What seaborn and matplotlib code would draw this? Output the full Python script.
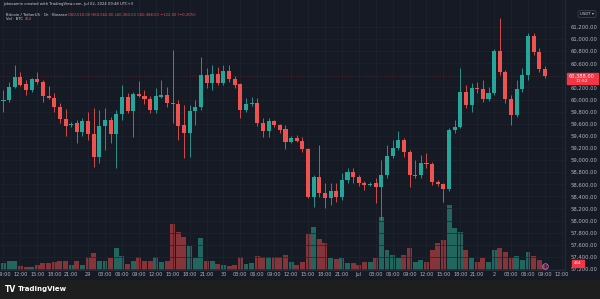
import numpy as np
import pandas as pd
import matplotlib
matplotlib.use('Agg')
import matplotlib.pyplot as plt
from matplotlib.patches import Rectangle, FancyBboxPatch
from matplotlib.lines import Line2D
from matplotlib.ticker import FuncFormatter
import seaborn as sns

# ==========================================
# 1. 資料 (BTC/USDT 1h, 2024-06-28 09:00 ~ 2024-07-02 09:00)
# ==========================================
start_time = '2024-06-28 09:00'

opens = [59980, 59990, 60210, 60370, 60260, 60160, 60340, 60290, 60060, 60030,
         59880, 59680, 59580, 59610, 59460, 59650, 59430, 59050, 59560, 59660,
         59430, 59760, 60040, 59810, 60090, 60060, 60010, 59830, 60040, 60080,
         59940, 59930, 59580, 59450, 59810, 59880, 60410, 60270, 60420, 60270,
         60470, 60340, 60260, 59830, 59930, 59940, 59610, 59480, 59650, 59580,
         59510, 59300, 59370, 59320, 59180, 58390, 58720, 58460, 58370, 58490,
         58390, 58670, 58800, 58720, 58620, 58590, 58620, 58560, 58750, 59070,
         59200, 59330, 59130, 58740, 58750, 58950, 58930, 58640, 58600, 58520,
         59500, 59550, 60130, 59910, 60190, 60180, 60010, 60110, 60800, 60460,
         60010, 59750, 60180, 60410, 61050, 60790, 60510]
highs = [60160, 60290, 60570, 60460, 60320, 60360, 60460, 60320, 60220, 60110,
         59940, 59840, 59630, 59660, 59700, 59800, 59860, 59830, 59860, 59710,
         59830, 60240, 60110, 60130, 60310, 60160, 60060, 60190, 60320, 60210,
         60820, 59990, 59910, 59910, 59990, 60700, 60520, 60570, 60540, 60570,
         60570, 60390, 60270, 60030, 60040, 60030, 59700, 59700, 59660, 59600,
         59580, 59400, 59410, 59380, 59200, 58750, 59250, 58620, 58620, 58620,
         58790, 58870, 58870, 58750, 58650, 58640, 58700, 59000, 59250, 59330,
         59480, 59360, 59170, 59000, 59080, 59120, 58970, 58670, 58620, 59530,
         59660, 60520, 60240, 60270, 60290, 60320, 60210, 60840, 61350, 60490,
         60080, 60320, 60520, 61100, 61100, 60850, 60560]
lows = [59800, 59960, 60190, 60220, 60080, 60130, 60260, 59960, 60010, 59800,
        59610, 59400, 59550, 59280, 59400, 59330, 58890, 58950, 59170, 59280,
        58870, 59660, 59780, 59380, 60040, 59930, 59780, 59780, 60030, 59880,
        59610, 59330, 59030, 59050, 59580, 59830, 60190, 60160, 60240, 60240,
        60290, 60190, 59700, 59800, 59890, 59560, 59380, 59380, 59550, 59450,
        59180, 59280, 59300, 59130, 58370, 58220, 58390, 58210, 58260, 58310,
        58340, 58620, 58620, 58570, 58510, 58570, 58290, 58010, 58700, 59030,
        59170, 59050, 58560, 58700, 58700, 58870, 58590, 58570, 58310, 58490,
        59450, 59530, 59860, 59800, 60110, 59960, 59980, 60080, 60410, 59940,
        59580, 59710, 60130, 60320, 60740, 60460, 60360]
closes = [59990, 60210, 60370, 60240, 60160, 60340, 60290, 60060, 60030, 59880,
          59680, 59560, 59600, 59460, 59650, 59430, 59050, 59560, 59660, 59430,
          59760, 60040, 59810, 60090, 60060, 60010, 59830, 60060, 60080, 59940,
          59930, 59560, 59450, 59810, 59880, 60410, 60270, 60420, 60270, 60470,
          60340, 60240, 59830, 59930, 59940, 59610, 59480, 59650, 59580, 59500,
          59300, 59370, 59320, 59180, 58390, 58720, 58460, 58370, 58490, 58390,
          58670, 58800, 58720, 58620, 58590, 58600, 58560, 58750, 59070, 59200,
          59330, 59130, 58750, 58750, 58950, 58930, 58640, 58600, 58520, 59500,
          59550, 60130, 59910, 60190, 60180, 60010, 60110, 60800, 60460, 60010,
          59750, 60180, 60410, 61050, 60790, 60510, 60388]
volumes = [700, 900, 900, 400, 300, 300, 500, 700, 700, 800,
           900, 900, 500, 900, 500, 1300, 1700, 900, 900, 1200,
           2200, 1400, 600, 900, 1300, 900, 900, 1300, 800, 900,
           4600, 3800, 3300, 2400, 1200, 3200, 900, 900, 600, 500,
           400, 500, 1300, 600, 700, 1400, 1300, 1300, 1300, 1300,
           1500, 800, 500, 800, 3600, 4300, 3100, 2700, 1200, 1100,
           1200, 700, 700, 500, 800, 800, 1200, 5300, 2000, 1500,
           1200, 1500, 2200, 800, 1000, 800, 2000, 2700, 3000, 6500,
           4200, 3800, 2000, 1200, 800, 1200, 800, 2000, 2200, 1800,
           1200, 1400, 1000, 1800, 1400, 1000, 454]

df = pd.DataFrame({'open': opens, 'high': highs, 'low': lows,
                   'close': closes, 'volume': volumes})
df['idx'] = np.arange(len(df))
df['dir'] = np.where(df['close'] >= df['open'], 'up', 'down')

UP = '#26a69a'
DOWN = '#ef5350'
BG = '#161a25'
TXT = '#b2b5be'

# ==========================================
# 2. 畫布
# ==========================================
sns.set_theme(style='dark')
plt.rcParams['font.family'] = ['DejaVu Sans']

W, H = 600, 299
fig = plt.figure(figsize=(6, 2.99), dpi=100, facecolor=BG)
# 底部 TradingView 條
fig.add_artist(Rectangle((0, 0), 1, 19 / H, transform=fig.transFigure,
                         color='#1e1e1e', zorder=0))

ax = fig.add_axes([0, 29 / H, 565 / W, 270 / H])
axv = ax.twinx()
axv.set_facecolor(BG)
ax.set_zorder(axv.get_zorder() + 1)
ax.patch.set_visible(False)

# --- 成交量 (axv) ---
sns.barplot(data=df, x='idx', y='volume', hue='dir',
            palette={'up': '#21675f', 'down': '#85353a'},
            native_scale=True, dodge=False, width=0.88, saturation=1,
            legend=False, errorbar=None, linewidth=0, ax=axv)
axv.set_ylim(0, 27000)
axv.set_yticks([])
axv.set_ylabel('')
axv.set_xlabel('')
for s in axv.spines.values():
    s.set_visible(False)

# --- K線 (ax) ---
colors = np.where(df['dir'] == 'up', UP, DOWN)
ax.vlines(df['idx'], df['low'], df['high'], colors=colors, linewidth=0.6, zorder=3)
body_lo = np.minimum(df['open'], df['close'])
body_h = np.maximum(np.abs(df['close'] - df['open']), 12)
ax.bar(df['idx'], body_h, bottom=body_lo, width=0.72, color=colors,
       linewidth=0, zorder=4)

last = df.iloc[-1]
ax.axhline(last['close'], color=DOWN, lw=0.5, ls=(0, (1, 2)), alpha=0.35, zorder=2)

ax.set_xlim(-0.62, 99.56)
ax.set_ylim(57183, 61646)

# x 軸刻度: 每 3 小時
times = pd.date_range(start_time, periods=101, freq='h')
tick_pos = [i for i in range(len(times)) if times[i].hour % 3 == 0]
tick_lab = []
for i in tick_pos:
    t = times[i]
    if t.hour == 0:
        tick_lab.append('Jul' if t.day == 1 else str(t.day))
    else:
        tick_lab.append(t.strftime('%H:%M'))
ax.set_xticks(tick_pos)
ax.set_xticklabels(tick_lab)

# 價格刻度 (60,400 被現價標籤遮住)
price_ticks = [p for p in range(57200, 61201, 200) if p != 60400]
ax.yaxis.tick_right()
ax.set_yticks(price_ticks)
ax.yaxis.set_major_formatter(FuncFormatter(lambda v, p: f'{v:,.2f}'))
ax.tick_params(axis='y', length=0, pad=4, labelsize=3.8, labelcolor=TXT)
ax.tick_params(axis='x', length=0, pad=1.5, labelsize=3.6, labelcolor=TXT)
ax.grid(True, color='#20242f', linewidth=0.5)
for k, s in ax.spines.items():
    s.set_visible(k in ('bottom', 'right'))
    s.set_color('#2a2e39')
    s.set_linewidth(0.6)

# ==========================================
# 3. 文字標註
# ==========================================
fig.text(3 / W, 1 - 4.5 / H,
         'jobnoamin created with TradingView.com, Jul 02, 2024 09:48 UTC+3',
         fontsize=2.7, color='#d1d4dc', va='center')
fig.text(6 / W, 1 - 14.5 / H, 'Bitcoin / TetherUS · 1h · Binance',
         fontsize=2.7, color='#d1d4dc', va='center')
chg = last['close'] - last['open']
ohlc_txt = (f"O{last['open']:,.2f} H{last['high']:,.2f} L{last['low']:,.2f} "
            f"C{last['close']:,.2f} {chg:+,.2f} ({chg / last['open'] * 100:+.2f}%)")
fig.text(68 / W, 1 - 14.5 / H, ohlc_txt.replace('-', '−'),
         fontsize=2.7, color=DOWN, va='center')
fig.text(6 / W, 1 - 19.5 / H, 'Vol · BTC', fontsize=2.7, color='#d1d4dc', va='center')
fig.text(25 / W, 1 - 19.5 / H, f"{int(last['volume'])}", fontsize=2.7, color=DOWN,
         va='center')

# USDT 按鈕
fig.add_artist(FancyBboxPatch((578 / W, 1 - 17.5 / H), 18 / W, 7 / H,
                              boxstyle='round,pad=0,rounding_size=0.004',
                              transform=fig.transFigure, fc=BG, ec='#434651', lw=0.5))
fig.text(587 / W, 1 - 14 / H, 'USDT ▾', fontsize=2.8, color='#d1d4dc',
         ha='center', va='center')

# 現價標籤
fig.add_artist(Rectangle((567 / W, 1 - 84 / H), 31 / W, 11 / H,
                         transform=fig.transFigure, color='#f23645', zorder=5))
fig.text(582 / W, 1 - 76.5 / H, f"{last['close']:,.2f}", fontsize=3.6, color='white',
         ha='center', va='center', zorder=6)
fig.text(582 / W, 1 - 81.3 / H, '11:52', fontsize=3.2, color='white',
         ha='center', va='center', zorder=6)

# 成交量標籤
fig.add_artist(Rectangle((572 / W, 1 - 266.5 / H), 12 / W, 6.5 / H,
                         transform=fig.transFigure, color='#f23645', zorder=5))
fig.text(578 / W, 1 - 263.3 / H, f"{int(last['volume'])}", fontsize=2.9, color='white',
         ha='center', va='center', zorder=6)

# 事件圖示
fig.add_artist(Line2D([545 / W], [1 - 266 / H], transform=fig.transFigure,
                      marker='o', markersize=4, markerfacecolor='none',
                      markeredgecolor='#a66bd8', markeredgewidth=0.7))

# TradingView logo
fig.text(5 / W, 1 - 289.5 / H, 'TV', fontsize=5.5, color='white',
         fontweight='heavy', va='center')
fig.text(18 / W, 1 - 289.5 / H, 'TradingView', fontsize=5, color='white',
         fontweight='semibold', va='center')

plt.savefig('out.png', dpi=100, facecolor=fig.get_facecolor())
